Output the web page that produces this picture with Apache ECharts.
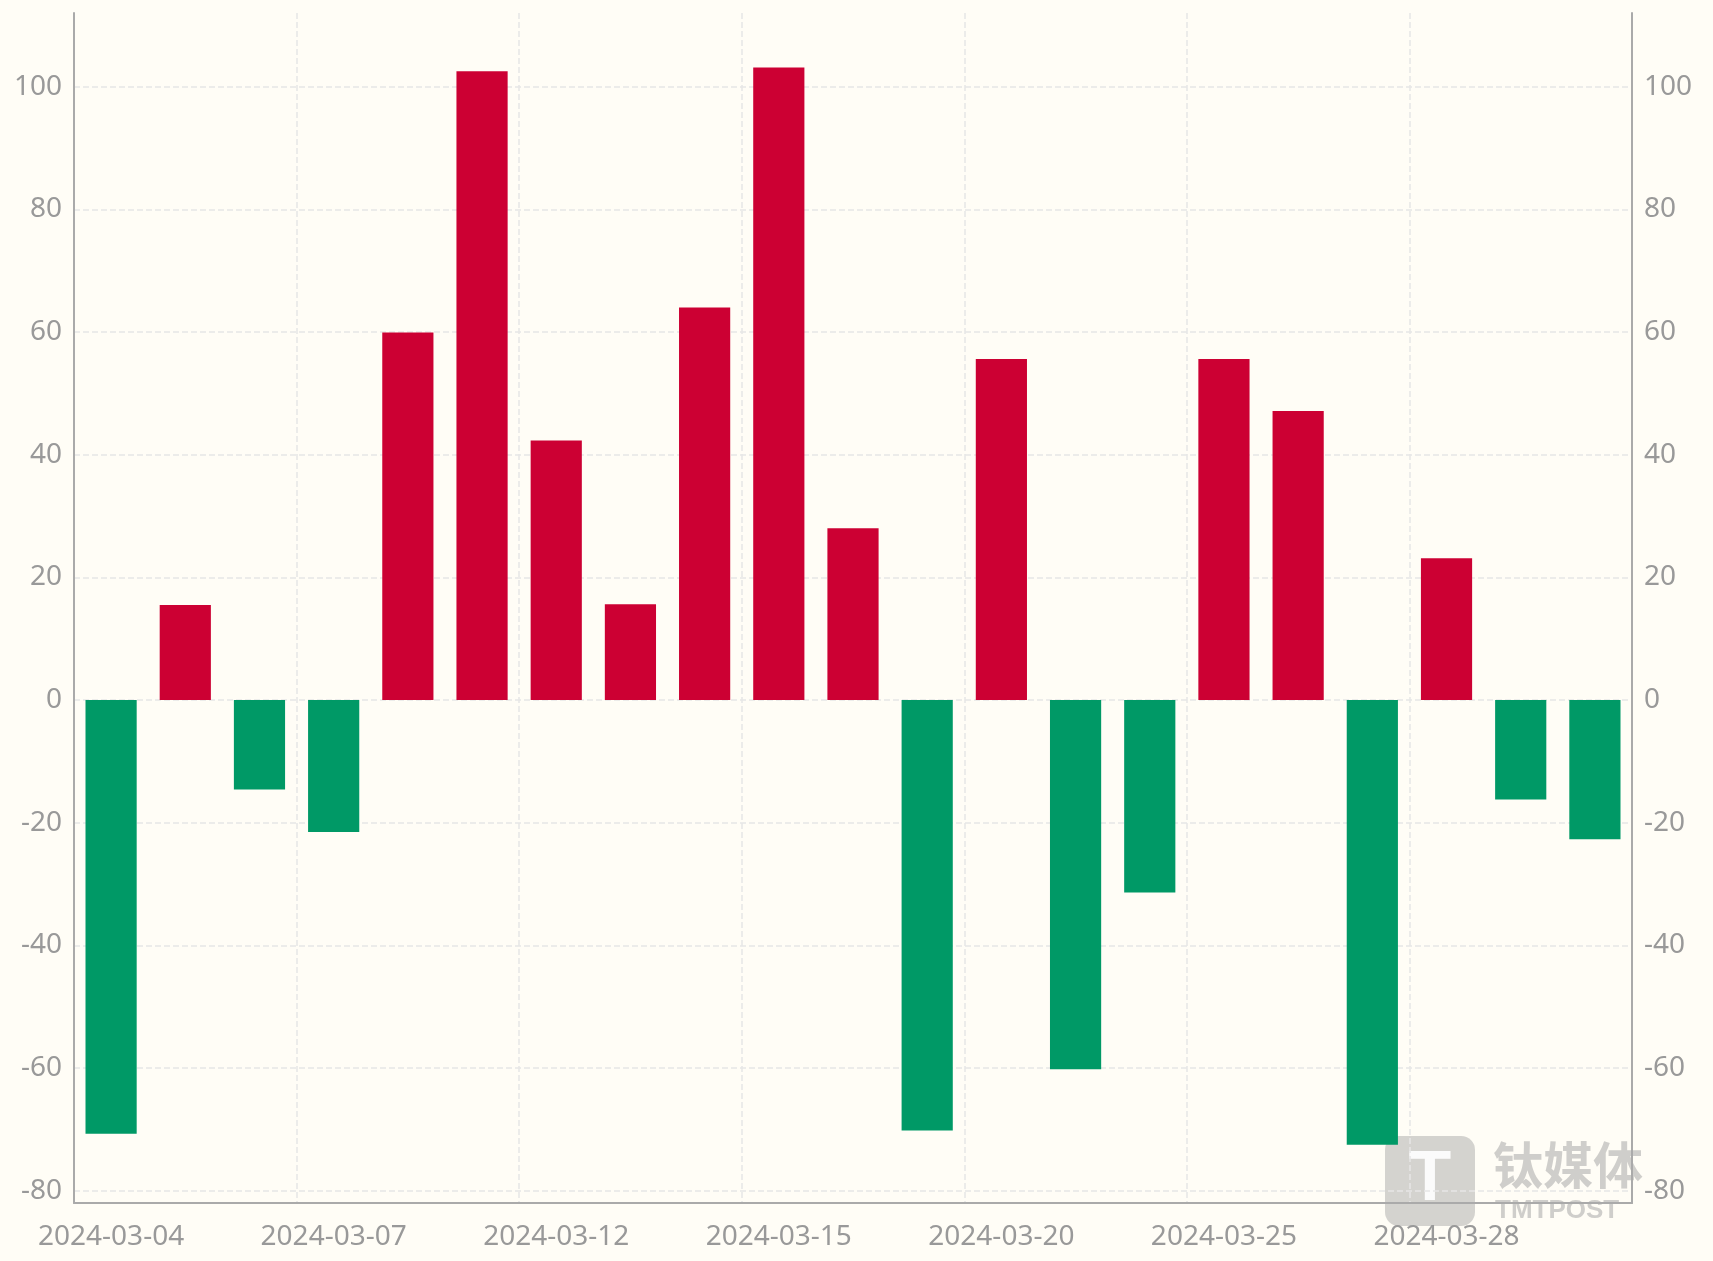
<!DOCTYPE html>
<html>
<head>
<meta charset="utf-8">
<script src="https://cdn.jsdelivr.net/npm/echarts@6/dist/echarts.min.js"></script>
<style>html,body{margin:0;padding:0;background:#fffdf6;}#chart{width:1713px;height:1261px;}</style>
</head>
<body>
<div id="chart"></div>
<script>
const dates = ['2024-03-04','2024-03-05','2024-03-06','2024-03-07','2024-03-08','2024-03-11','2024-03-12',
  '2024-03-13','2024-03-14','2024-03-15','2024-03-18','2024-03-19','2024-03-20','2024-03-21','2024-03-22',
  '2024-03-25','2024-03-26','2024-03-27','2024-03-28','2024-03-29','2024-04-01'];
const values = [-70.7, 15.5, -14.6, -21.5, 59.9, 102.5, 42.3, 15.6, 64.0, 103.1, 28.0,
  -70.2, 55.6, -60.2, -31.4, 55.6, 47.1, -72.5, 23.1, -16.2, -22.7];
const yTicks = [-80, -60, -40, -20, 0, 20, 40, 60, 80, 100];

const chart = echarts.init(document.getElementById('chart'));
const axisLabel = { color: '#999', fontSize: 28, fontFamily: 'Noto Sans' };
const yAxisBase = {
  type: 'value', min: -82, max: 112,
  axisLine: { show: true, lineStyle: { color: '#aaa', width: 2 } },
  axisTick: { show: false, customValues: yTicks },
  splitLine: { lineStyle: { color: '#e6e6e6', type: 'dashed', width: 1.5 } },
  axisLabel: Object.assign({ customValues: yTicks, margin: 12 }, axisLabel)
};
chart.setOption({
  animation: false,
  backgroundColor: '#fffdf6',
  grid: { left: 74, right: 81, top: 13, bottom: 58 },
  xAxis: {
    type: 'category', data: dates, boundaryGap: true,
    axisLine: { onZero: false, lineStyle: { color: '#aaa', width: 2 } },
    axisTick: { show: false },
    axisLabel: Object.assign({ interval: 2, margin: 20 }, axisLabel),
    splitLine: { show: true, interval: 2, lineStyle: { color: '#e6e6e6', type: 'dashed', width: 1.5 } }
  },
  yAxis: [
    Object.assign({ position: 'left' }, yAxisBase),
    Object.assign({ position: 'right' }, yAxisBase, { splitLine: { show: false } })
  ],
  graphic: [{
    type: 'group', right: 70, bottom: 35,
    children: [
      { type: 'rect', shape: { x: 0, y: 0, width: 90, height: 90, r: 14 }, style: { fill: 'rgba(160,160,160,0.45)' } },
      { type: 'text', x: 45, y: 45, style: { text: 'T', fill: 'rgba(255,255,255,0.9)', font: 'bold 70px sans-serif', align: 'center', verticalAlign: 'middle' } },
      { type: 'text', x: 108, y: 4, style: { text: '钛媒体', fill: 'rgba(160,160,160,0.5)', font: 'bold 50px "Noto Sans CJK SC"' } },
      { type: 'text', x: 110, y: 62, style: { text: 'TMTPOST', fill: 'rgba(160,160,160,0.5)', font: 'bold 26px sans-serif' } }
    ]
  }],
  series: [{
    type: 'bar', data: values, barWidth: '69%',
    itemStyle: { color: p => (p.value >= 0 ? '#cc0033' : '#009966') }
  }]
});
</script>
</body>
</html>
